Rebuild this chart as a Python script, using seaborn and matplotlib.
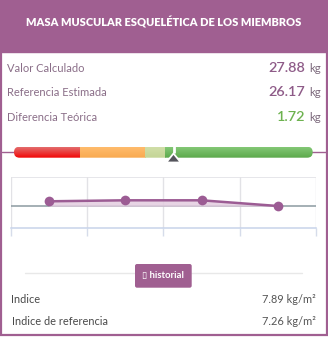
import numpy as np
import pandas as pd
import matplotlib
matplotlib.use("Agg")
import matplotlib.pyplot as plt
from matplotlib.patches import Rectangle, FancyBboxPatch, Polygon
import seaborn as sns

sns.set_theme(style="white")
plt.rcParams["font.family"] = ["Lato", "DejaVu Sans"]

# ---- data ----
title = "MASA MUSCULAR ESQUELÉTICA DE LOS MIEMBROS"
row_labels = ["Valor Calculado", "Referencia Estimada", "Diferencia Teórica"]
row_values = ["27.88", "26.17", "1.72"]
row_unit = "kg"
gauge_edges = [0, 22, 44, 50.7, 100]          # red, orange, pale green, green
gauge_marker = 53.4
history_idx = [0, 1, 2, 3]
history_vals = [0.50, 0.60, 0.60, 0.03]
index_labels = ["Indice", "Indice de referencia"]
index_values = ["7.89 kg/m²", "7.26 kg/m²"]
button_text = "\u25af historial"

PURPLE = "#a05f91"
W, H = 328, 337

fig = plt.figure(figsize=(W / 100, H / 100), dpi=100)
bg = fig.add_axes([0, 0, 1, 1])
bg.set_xlim(0, W)
bg.set_ylim(H, 0)
bg.axis("off")

# card frame and header
bg.add_patch(Rectangle((0, 0), W, 52, color=PURPLE, zorder=1))
bg.add_patch(Rectangle((0.8, 0), W - 1.6, H - 1.6, fill=False, ec=PURPLE, lw=1.6, zorder=5))
bg.text(W / 2, 22.5, title, color="white", fontsize=7.9, fontweight="heavy",
        ha="center", va="center", zorder=6)

# value rows
row_y = [68.5, 93, 117.5]
for i, (lab, val) in enumerate(zip(row_labels, row_values)):
    bg.text(7, row_y[i], lab, color="#8a6e88", fontsize=8.0, ha="left", va="center")
    col = "#6db24f" if i == 2 else "#8e5b88"
    bg.text(305, row_y[i] - 0.5, val, color=col, fontsize=10.4, ha="right", va="center",
            fontweight="semibold")
    bg.text(321, row_y[i], row_unit, color="#7d6a7d", fontsize=8.3, ha="right", va="center")

# gauge
gx0, gx1 = 14, 312.7
gy0, gy1 = 146.7, 157.7
gy = (gy0 + gy1) / 2
bg.plot([1.5, gx0 + 3], [gy, gy], color=PURPLE, lw=1, zorder=2)
bg.plot([gx1 - 3, W - 1.5], [gy, gy], color=PURPLE, lw=1, zorder=2)
span = gx1 - gx0
seg_colors = [("#e36b6b", "#f20808"), ("#ffbb6c", "#f9aa50"),
              ("#d0dea8", "#c4d596"), ("#83c775", "#5ca94c")]
clip = FancyBboxPatch((gx0, gy0), span, gy1 - gy0,
                      boxstyle="round,pad=0,rounding_size=5.5",
                      fc="none", ec="none", transform=bg.transData)
bg.add_patch(clip)
for k, (ctop, cbot) in enumerate(seg_colors):
    a = gx0 + span * gauge_edges[k] / 100
    b = gx0 + span * gauge_edges[k + 1] / 100
    t = np.array(matplotlib.colors.to_rgb(ctop))
    bt = np.array(matplotlib.colors.to_rgb(cbot))
    grad = np.linspace(0, 1, 20)[:, None, None]
    img = t * (1 - grad) + bt * grad
    im = bg.imshow(img, extent=(a, b, gy1, gy0), aspect="auto", zorder=3,
                   interpolation="bilinear")
    im.set_clip_path(clip)
bg.set_xlim(0, W)
bg.set_ylim(H, 0)
mx = gx0 + span * gauge_marker / 100
bg.plot([mx, mx], [gy0 - 0.5, gy + 1], color="white", lw=2, zorder=4, solid_capstyle="butt")
bg.add_patch(Polygon([[mx, 153.5], [mx - 7.3, 162.5], [mx + 7.3, 162.5]], closed=True,
                     fc="#55555c", ec="white", lw=1.3, zorder=5, joinstyle="miter"))

# history chart
ax = fig.add_axes([10.7 / W, 1 - 228.3 / H, (316 - 10.7) / W, (228.3 - 177.3) / H])
df = pd.DataFrame({"idx": history_idx, "val": history_vals})
ax.fill_between(df["idx"], df["val"], 0, color="#e3cde0", alpha=0.85, lw=0, zorder=2)
sns.lineplot(data=df, x="idx", y="val", ax=ax, color="#9c5c94", lw=1.8,
             marker="o", markersize=7, markeredgewidth=0, zorder=3)
ax.set_xlim(-0.5, 3.5)
ax.set_ylim(-2.2, 2.9)
ax.axhline(0, color="#8c9aa0", lw=1.1, zorder=1)
for xb in np.arange(-0.5, 3.6, 1):
    ax.axvline(xb, color="#e2e2e6", lw=1, zorder=0)
ax.axhline(2.9, color="#e2e2e6", lw=1.2, zorder=0)
ax.set_xticks(np.arange(-0.5, 3.6, 1))
ax.set_xticklabels([])
ax.set_yticks([])
ax.tick_params(axis="x", length=6, width=1, color="#d6dcea", direction="out", bottom=True)
for s in ["top", "left", "right"]:
    ax.spines[s].set_visible(False)
ax.spines["bottom"].set_color("#c7d3ea")
ax.spines["bottom"].set_linewidth(1.1)
ax.set_xlabel("")
ax.set_ylabel("")
ax.patch.set_alpha(0)

# history button and separator
bg.plot([25, 302], [273.3, 273.3], color="#e8e8e8", lw=1, zorder=1)
bg.add_patch(FancyBboxPatch((135, 264), 56.7, 23.7, boxstyle="round,pad=0,rounding_size=2",
                            fc=PURPLE, ec="none", zorder=2))
bg.text(163.3, 275.5, button_text, color="white", fontsize=6.8, fontweight="bold",
        ha="center", va="center", zorder=3)

# index rows
idx_y = [299.8, 321.5]
for i, (lab, val) in enumerate(zip(index_labels, index_values)):
    bg.text(11.5, idx_y[i], lab, color="#4a4a4a", fontsize=7.9, ha="left", va="center")
    bg.text(315.5, idx_y[i], val, color="#555555", fontsize=7.9, ha="right", va="center")

fig.savefig("out.png", dpi=100)
